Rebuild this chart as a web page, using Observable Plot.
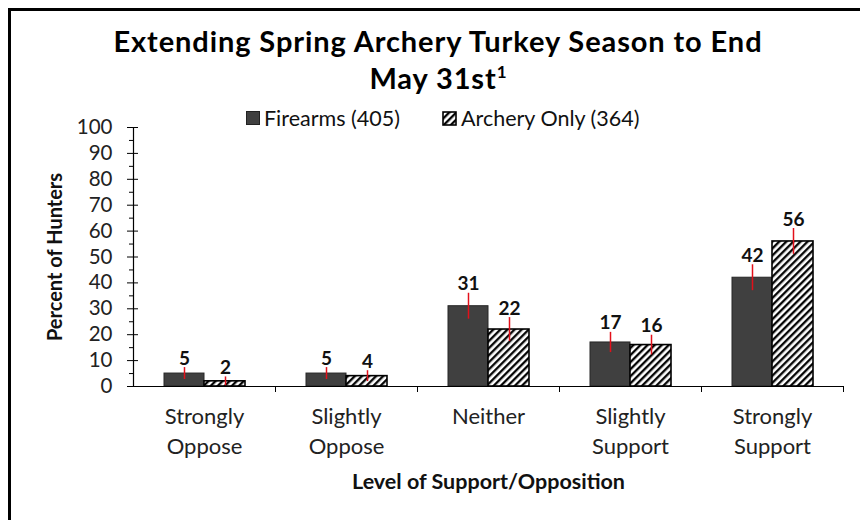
<!DOCTYPE html>
<html>
<head>
<meta charset="utf-8">
<script src="https://cdn.jsdelivr.net/npm/d3@7"></script>
<script src="https://cdn.jsdelivr.net/npm/@observablehq/plot@0.6"></script>
<style>
  html, body { margin: 0; padding: 0; background: #fff; }
  body { width: 860px; height: 520px; overflow: hidden; position: relative; font-family: Lato, "Open Sans", sans-serif; color: #111; }
  #frame { position: absolute; left: 8px; top: 8px; width: 1000px; height: 1000px; border: 3px solid #000; box-sizing: border-box; }
  #title { position: absolute; left: 8px; width: 860px; top: 22px; text-align: center; font-weight: bold; font-size: 29px; letter-spacing: 0.9px; line-height: 37px; color: #000; }
  #title sup { font-size: 17px; vertical-align: 11px; line-height: 0; letter-spacing: 0; }
  .leg { position: absolute; top: 105px; font-size: 21.5px; color: #111; display: flex; align-items: center; white-space: nowrap; }
  .leg svg { margin-right: 4px; }
  #chart { position: absolute; left: 0; top: 100px; }
</style>
</head>
<body>
<svg width="0" height="0" style="position:absolute">
  <defs>
    <pattern id="hatch" patternUnits="userSpaceOnUse" width="5" height="5" patternTransform="rotate(45)">
      <rect width="5" height="5" fill="#fff"></rect>
      <line x1="1.2" y1="0" x2="1.2" y2="5" stroke="#000" stroke-width="2.3"></line>
    </pattern>
  </defs>
</svg>
<div id="frame"></div>
<div id="title">Extending Spring Archery Turkey Season to End<br>May 31st<sup>1</sup></div>
<div class="leg" style="left:246px"><svg width="14" height="14"><rect x="0.5" y="0.5" width="13" height="13" fill="#404040" stroke="#222"></rect></svg><span id="leg1"></span></div>
<div class="leg" style="left:442px"><svg width="15" height="15"><rect x="1" y="1" width="13" height="13" fill="url(#hatch)" stroke="#000" stroke-width="1.6"></rect></svg><span id="leg2"></span></div>
<div id="chart"></div>
<script>
const categories = ["Strongly Oppose", "Slightly Oppose", "Neither", "Slightly Support", "Strongly Support"];
const tickLabels = ["Strongly\nOppose", "Slightly\nOppose", "Neither", "Slightly\nSupport", "Strongly\nSupport"];
const seriesNames = ["Firearms (405)", "Archery Only (364)"];
const firearms = [5, 5, 31, 17, 42];
const archery = [2, 4, 22, 16, 56];
const firearmsErr = [2.3, 2.3, 5, 3.9, 5];
const archeryErr = [1.7, 2.1, 4.6, 3.8, 5];
const yTicks = [0, 10, 20, 30, 40, 50, 60, 70, 80, 90, 100];
const yMinorTicks = [5, 15, 25, 35, 45, 55, 65, 75, 85, 95];
const yTitle = "Percent of Hunters";
const xTitle = "Level of Support/Opposition";

document.getElementById("leg1").textContent = seriesNames[0];
document.getElementById("leg2").textContent = seriesNames[1];

const fData = categories.map((c, i) => ({cat: c, value: firearms[i], err: firearmsErr[i]}));
const aData = categories.map((c, i) => ({cat: c, value: archery[i], err: archeryErr[i]}));

const W = 860, H = 420, mt = 27, mb = 134, ml = 133, mr = 17;
const plotH = H - mt - mb;
const plotW = W - ml - mr;
const half = plotW / categories.length / 2;

const chart = Plot.plot({
  width: W, height: H,
  marginTop: mt, marginBottom: mb, marginLeft: ml, marginRight: mr,
  style: {fontFamily: "Lato, 'Open Sans', sans-serif", color: "#111", background: "transparent"},
  x: {domain: categories, padding: 0, axis: null},
  y: {domain: [0, 100]},
  marks: [
    Plot.axisY(yTicks, {anchor: "left", tickSize: 6, tickPadding: 15, fontSize: 20.5, label: null, stroke: "#000", fill: "#222"}),
    Plot.axisY(yMinorTicks, {anchor: "left", tickSize: 4, tickFormat: () => "", label: null, stroke: "#000"}),
    Plot.ruleY(yTicks, {insetRight: plotW - 5, stroke: "#000"}),
    Plot.ruleX([categories[0]], {dx: -half, stroke: "#000", strokeWidth: 1.2}),
    Plot.barY(fData, {x: "cat", y: "value", fill: "#404040", stroke: "#262626", strokeWidth: 1, insetLeft: 31, insetRight: 71}),
    Plot.barY(aData, {x: "cat", y: "value", fill: "url(#hatch)", stroke: "#000", strokeWidth: 1.6, insetLeft: 71, insetRight: 30}),
    Plot.ruleY([0], {stroke: "#000", strokeWidth: 1.2}),
    Plot.ruleX(categories, {x: d => d, dx: half, insetTop: plotH, insetBottom: -6, stroke: "#000"}),
    Plot.ruleX(fData, {x: "cat", y1: d => d.value - d.err, y2: d => d.value + d.err, dx: -20, stroke: "#e3101a", strokeWidth: 1.5}),
    Plot.ruleX(aData, {x: "cat", y1: d => d.value - d.err, y2: d => d.value + d.err, dx: 21, stroke: "#e3101a", strokeWidth: 1.5}),
    Plot.text(fData, {x: "cat", y: d => d.value + d.err, text: d => String(d.value), dx: -20, dy: -3, lineAnchor: "bottom", fontWeight: "bold", fontSize: 19, fill: "#111"}),
    Plot.text(aData, {x: "cat", y: d => d.value + d.err, text: d => String(d.value), dx: 21, dy: -3, lineAnchor: "bottom", fontWeight: "bold", fontSize: 19, fill: "#111"}),
    Plot.text(categories, {x: d => d, text: (d, i) => tickLabels[i], frameAnchor: "bottom", lineAnchor: "top", dy: 16, lineHeight: 1.36, fontSize: 22, fill: "#222"}),
    Plot.text([xTitle], {frameAnchor: "bottom", lineAnchor: "top", dy: 87, fontWeight: "bold", fontSize: 21.5, fill: "#111"}),
    Plot.text([yTitle], {frameAnchor: "left", textAnchor: "middle", lineAnchor: "middle", dx: -78, rotate: -90, fontWeight: "bold", fontSize: 20, fill: "#111"})
  ]
});
document.getElementById("chart").appendChild(chart);
</script>
</body>
</html>
